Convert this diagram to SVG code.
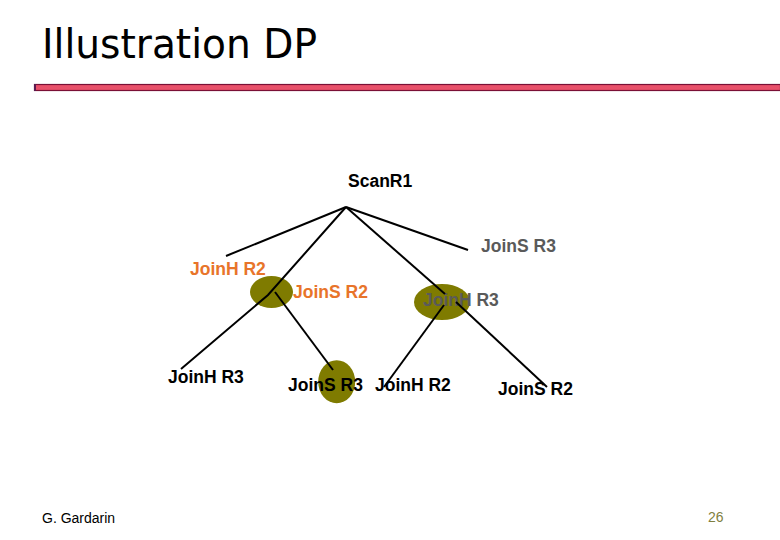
<svg xmlns="http://www.w3.org/2000/svg" width="780" height="540" viewBox="0 0 780 540">
<style>
.t{font-family:"Liberation Sans",Arial,sans-serif;font-weight:bold;font-size:17.5px}
.blk{fill:#000}
.org{fill:#E8742A}
.gry{fill:#5A5A5A}
.ell{fill:#7F7B00}
.edge{stroke:#000;stroke-width:2;fill:none}
</style>
<rect width="780" height="540" fill="#fff"/>
<text x="42" y="58" font-family="'DejaVu Sans',Tahoma,sans-serif" font-size="40" fill="#000" textLength="275" lengthAdjust="spacingAndGlyphs">Illustration DP</text>
<rect x="34.5" y="84.5" width="746" height="6" fill="#E8506A" stroke="#7A1036" stroke-width="1.2"/>
<rect x="34" y="84" width="2" height="7" fill="#5A1A50"/>
<g id="n-scan"><text class="t blk" x="348" y="187">ScanR1</text></g>
<g id="n-joinh-r2-top"><text class="t org" x="190" y="275">JoinH R2</text></g>
<g id="n-ell-left"><ellipse class="ell" cx="271.5" cy="292" rx="21.5" ry="16"/></g>
<g id="n-joins-r2-top"><text class="t org" x="293" y="298">JoinS R2</text></g>
<g id="n-joins-r3-top"><text class="t gry" x="481" y="252">JoinS R3</text></g>
<g id="n-joinh-r3-top"><ellipse class="ell" cx="442" cy="302" rx="28" ry="18"/><text class="t gry" x="423" y="306">JoinH R3</text></g>
<g id="n-joinh-r3"><text class="t blk" x="168" y="383">JoinH R3</text></g>
<g id="n-joins-r3"><ellipse class="ell" cx="336.7" cy="381.7" rx="18.5" ry="21.5"/><text class="t blk" x="288" y="391">JoinS R3</text></g>
<g id="n-joinh-r2"><text class="t blk" x="375" y="391">JoinH R2</text></g>
<g id="n-joins-r2"><text class="t blk" x="498" y="395">JoinS R2</text></g>
<g id="connectors">
<line class="edge" x1="346" y1="207" x2="226" y2="256"/>
<line class="edge" x1="346" y1="207" x2="468" y2="250"/>
<polyline class="edge" points="346,207 268,295 181,369"/>
<line class="edge" x1="275" y1="292" x2="333" y2="370"/>
<line class="edge" x1="346" y1="207" x2="445" y2="294"/>
<line class="edge" x1="444" y1="305" x2="384" y2="387"/>
<line class="edge" x1="456" y1="302" x2="547" y2="387"/>
</g>
<text x="42" y="523" font-family="'Liberation Sans',Arial,sans-serif" font-size="14" fill="#000">G. Gardarin</text>
<text x="708" y="522" font-family="'Liberation Sans',Arial,sans-serif" font-size="14" fill="#7F7F3F">26</text>
</svg>
